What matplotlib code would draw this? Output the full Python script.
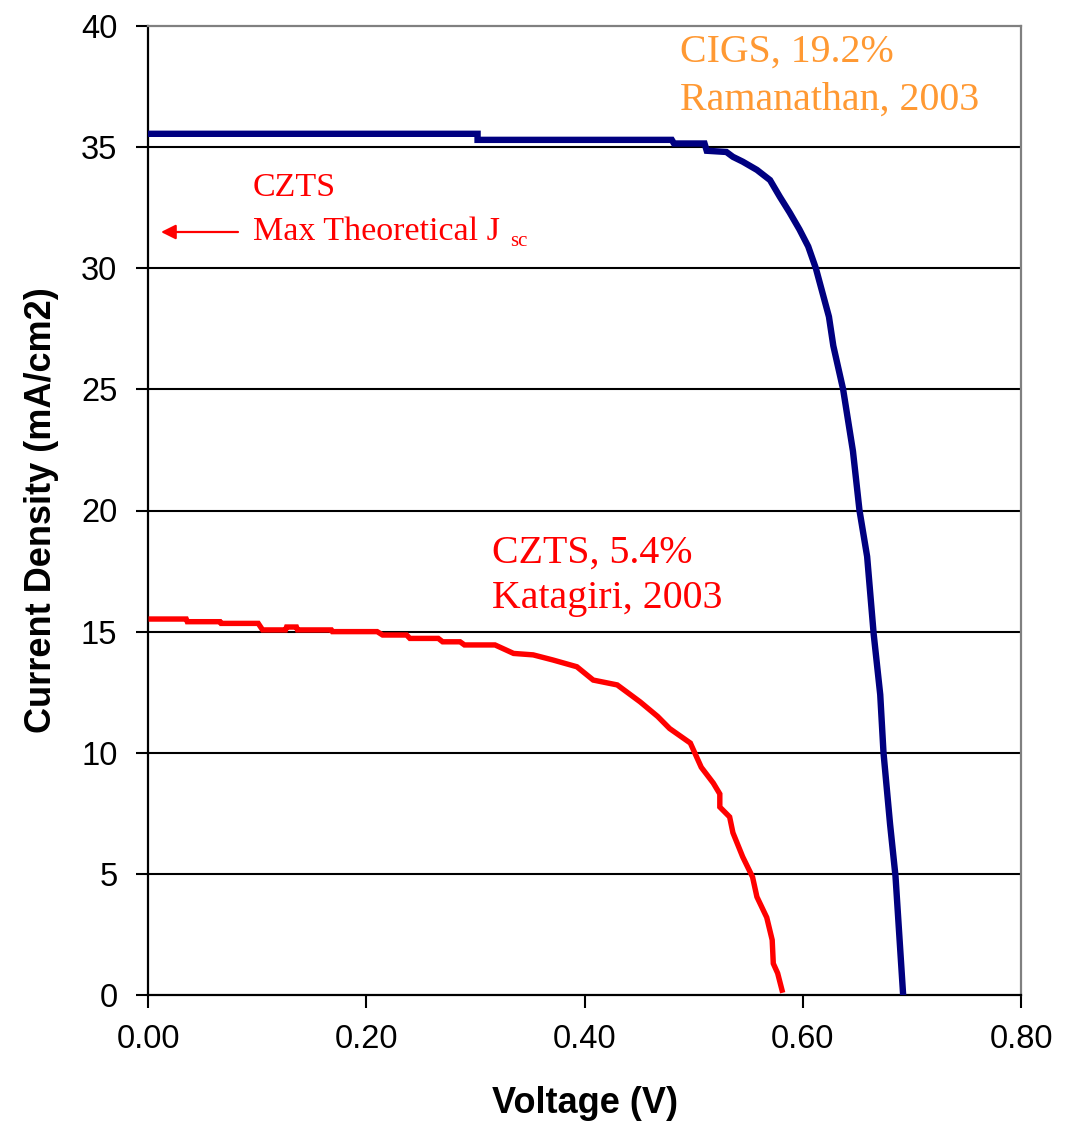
import matplotlib
matplotlib.use('Agg')
import matplotlib.pyplot as plt

# CIGS curve (Ramanathan, 2003)
cigs_v = [0.0, 0.302, 0.302, 0.480, 0.482, 0.510, 0.512, 0.530, 0.536, 0.545, 0.558,
          0.570, 0.579, 0.588, 0.597, 0.605, 0.612, 0.618, 0.624, 0.628, 0.637, 0.646,
          0.652, 0.659, 0.665, 0.671, 0.674, 0.680, 0.685, 0.689, 0.692]
cigs_j = [35.55, 35.55, 35.3, 35.3, 35.15, 35.15, 34.85, 34.8, 34.6, 34.4, 34.06,
          33.64, 32.95, 32.3, 31.6, 30.9, 30.0, 29.0, 28.0, 26.8, 25.0, 22.45,
          20.0, 18.1, 14.9, 12.4, 10.0, 7.06, 4.9, 2.1, 0.0]

# CZTS curve (Katagiri, 2003)
czts_v = [0.003, 0.035, 0.036, 0.066, 0.067, 0.101, 0.105, 0.126, 0.127, 0.136, 0.137,
          0.168, 0.169, 0.21, 0.215, 0.237, 0.24, 0.266, 0.27, 0.286, 0.29, 0.318,
          0.335, 0.353, 0.371, 0.393, 0.408, 0.43, 0.451, 0.467, 0.478, 0.497, 0.501,
          0.507, 0.518, 0.524, 0.524, 0.533, 0.536, 0.545, 0.554, 0.558, 0.567, 0.572,
          0.573, 0.577, 0.581]
czts_j = [15.52, 15.52, 15.41, 15.41, 15.34, 15.34, 15.07, 15.07, 15.19, 15.19, 15.07,
          15.07, 15.0, 15.0, 14.86, 14.86, 14.72, 14.72, 14.58, 14.58, 14.45, 14.45,
          14.1, 14.04, 13.83, 13.55, 13.0, 12.8, 12.1, 11.5, 11.0, 10.4, 10.0,
          9.4, 8.75, 8.3, 7.76, 7.35, 6.7, 5.7, 4.87, 4.05, 3.2, 2.27,
          1.3, 0.9, 0.2]

x_ticks = [0.0, 0.2, 0.4, 0.6, 0.8]
x_labels = ['0.00', '0.20', '0.40', '0.60', '0.80']
y_ticks = [0, 5, 10, 15, 20, 25, 30, 35, 40]

W, H = 1068, 1121
fig = plt.figure(figsize=(W / 100, H / 100), dpi=100)
ax = fig.add_axes([148 / W, 1 - 995 / H, 873 / W, 969 / H])

ax.plot(cigs_v, cigs_j, color='#000080', lw=4.6, zorder=3, solid_joinstyle='miter')
ax.plot(czts_v, czts_j, color='#ff0000', lw=3.9, zorder=3, solid_joinstyle='miter')

ax.set_xlim(0, 0.8)
ax.set_ylim(0, 40)
ax.set_xticks(x_ticks)
ax.set_xticklabels(x_labels)
ax.set_yticks(y_ticks)

ax.grid(axis='y', color='black', lw=1.5, zorder=1)
ticks = ax.yaxis.get_major_ticks()
ticks[0].gridline.set_visible(False)
ticks[-1].gridline.set_visible(False)

for s in ['left', 'bottom']:
    ax.spines[s].set_color('black')
    ax.spines[s].set_linewidth(1.6)
for s in ['top', 'right']:
    ax.spines[s].set_color('#808080')
    ax.spines[s].set_linewidth(1.6)

ax.tick_params(axis='both', direction='out', length=9, width=1.5, color='black',
               labelsize=23.5)
ax.tick_params(axis='x', pad=12)
ax.tick_params(axis='y', pad=13)
for lab in ax.get_xticklabels() + ax.get_yticklabels():
    lab.set_fontfamily('Liberation Sans')

ax.set_xlabel('Voltage (V)', fontsize=26, fontweight='bold', family='Liberation Sans', labelpad=22)
ax.set_ylabel('Current Density (mA/cm2)', fontsize=26, fontweight='bold', family='Liberation Sans', labelpad=16)


def fp(x, y):
    return x / W, 1 - y / H


serif = 'Liberation Serif'
orange = '#ff9933'
fig.text(*fp(680, 62), 'CIGS, 19.2%', color=orange, fontsize=28.7, family=serif, va='baseline')
fig.text(*fp(680, 110), 'Ramanathan, 2003', color=orange, fontsize=28.7, family=serif, va='baseline')
fig.text(*fp(492, 563), 'CZTS, 5.4%', color='red', fontsize=28.7, family=serif, va='baseline')
fig.text(*fp(492, 608), 'Katagiri, 2003', color='red', fontsize=28.7, family=serif, va='baseline')
fig.text(*fp(253, 196), 'CZTS', color='red', fontsize=24.5, family=serif, va='baseline')
fig.text(*fp(253, 240), 'Max Theoretical J', color='red', fontsize=24.5, family=serif, va='baseline')
fig.text(*fp(510, 246), 'sc', color='red', fontsize=15, family=serif, va='baseline')

ax.annotate('', xy=fp(161, 232), xytext=fp(238, 232), xycoords='figure fraction',
            textcoords='figure fraction',
            arrowprops=dict(arrowstyle='-|>', color='red', lw=1.6, mutation_scale=22,
                            shrinkA=0, shrinkB=0))

fig.savefig('out.png', dpi=100, facecolor='white')
